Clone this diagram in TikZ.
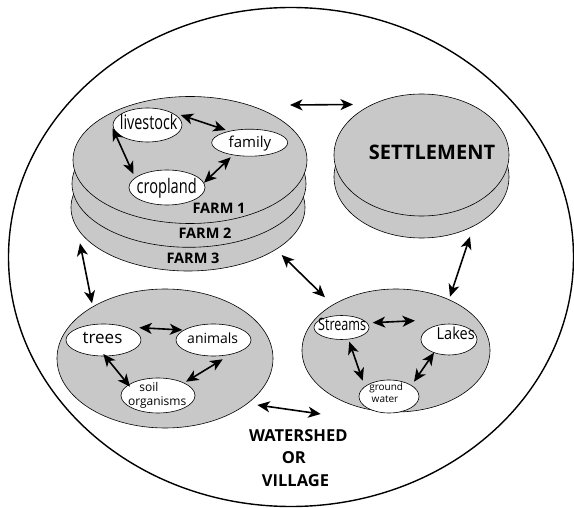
\documentclass[tikz,border=0pt]{standalone}
\usepackage{fontspec}
\setmainfont{Open Sans}
\usetikzlibrary{shapes.geometric,arrows.meta,calc}

\definecolor{diskgray}{RGB}{200,200,200}

% horizontally condensed text
\newcommand\slimtext[2]{\scalebox{#1}[1]{#2}}

\tikzset{
  disk/.style={ellipse, draw=black, line width=0.6pt, fill=diskgray, inner sep=0pt},
  bubble/.style={ellipse, draw=black, line width=0.6pt, fill=white, inner sep=0pt},
  link/.style={{Stealth[length=12.5pt,width=11pt,inset=3.5pt]}-{Stealth[length=12.5pt,width=11pt,inset=3.5pt]}, line width=1.6pt},
  lbl/.style={anchor=base, inner sep=0pt},
  caps/.style={lbl, font=\bfseries\fontsize{14.5}{16}\selectfont},
}

\begin{document}
\begin{tikzpicture}[x=1pt, y=-1pt]
\useasboundingbox (0,0) rectangle (574,508);

% outer boundary
\node[ellipse, draw=black, line width=1.4pt, inner sep=0pt,
      minimum width=565pt, minimum height=499pt] (outer) at (291,257) {};

% farm stack (bottom disk first)
\node[disk, minimum width=234pt, minimum height=127pt] (farm3) at (188,207.5) {};
\node[disk, minimum width=234pt, minimum height=127pt] (farm2) at (189,183.8) {};
\node[disk, minimum width=234pt, minimum height=127pt] (farm1) at (190,160) {};

% settlement
\node[disk, minimum width=175pt, minimum height=122pt] (settle2) at (421.5,177) {};
\node[disk, minimum width=175pt, minimum height=122pt] (settle1) at (421.5,155) {};

% forest and water
\node[disk, minimum width=216pt, minimum height=139pt] (forest) at (165,358.5) {};
\node[disk, minimum width=188pt, minimum height=123pt] (water) at (396,350.5) {};

% farm components
\node[bubble, minimum width=69pt, minimum height=34pt] (liv) at (147.5,125) {};
\node[bubble, minimum width=76pt, minimum height=27pt] (fam) at (249.7,142.7) {};
\node[bubble, minimum width=76pt, minimum height=35pt] (crop) at (167,187.5) {};

% forest components
\node[bubble, minimum width=75pt, minimum height=32pt] (trees) at (103.5,340) {};
\node[bubble, minimum width=75pt, minimum height=32pt] (animals) at (213.5,340) {};
\node[bubble, minimum width=74pt, minimum height=35pt] (soil) at (158,395.5) {};

% water components
\node[bubble, minimum width=55pt, minimum height=24pt] (streams) at (341.5,327.5) {};
\node[bubble, minimum width=56pt, minimum height=31pt] (lakes) at (449,339.5) {};
\node[bubble, minimum width=60pt, minimum height=33pt] (ground) at (389,396.5) {};

% labels
\node[lbl, font=\fontsize{20}{22}\selectfont] (t-liv) at (148.7,130) {\slimtext{0.72}{livestock}};
\node[lbl, font=\fontsize{15}{17}\selectfont] (t-fam) at (250,147.3) {family};
\node[lbl, font=\fontsize{20}{22}\selectfont] (t-crop) at (166.7,193.3) {\slimtext{0.73}{cropland}};
\node[caps] (t-farm1) at (219,214) {FARM 1};
\node[caps] (t-farm2) at (205,239) {FARM 2};
\node[caps] (t-farm3) at (193,264) {FARM 3};
\node[lbl, font=\bfseries\fontsize{20}{22}\selectfont] (t-settle) at (432,159.3) {SETTLEMENT};

\node[lbl, font=\fontsize{17}{19}\selectfont] (t-trees) at (102.5,344) {trees};
\node[lbl, font=\fontsize{14}{16}\selectfont] (t-animals) at (212.7,344) {animals};
\node[lbl, font=\fontsize{12}{14}\selectfont] (t-soil1) at (149,391.7) {soil};
\node[lbl, font=\fontsize{12}{14}\selectfont] (t-soil2) at (157.2,406) {organisms};

\node[lbl, font=\fontsize{17}{19}\selectfont] (t-streams) at (342.2,330.7) {\slimtext{0.74}{Streams}};
\node[lbl, font=\fontsize{16.5}{18}\selectfont] (t-lakes) at (455.7,340) {\slimtext{0.88}{Lakes}};
\node[lbl, font=\fontsize{10}{12}\selectfont] (t-ground1) at (386.2,391) {ground};
\node[lbl, font=\fontsize{10}{12}\selectfont] (t-ground2) at (385,402.3) {water};

\node[lbl, font=\bfseries\fontsize{16.5}{18}\selectfont] (t-ws1) at (298.3,441.7) {WATERSHED};
\node[lbl, font=\bfseries\fontsize{16.5}{18}\selectfont] (t-ws2) at (293.8,464) {OR};
\node[lbl, font=\bfseries\fontsize{16.5}{18}\selectfont] (t-ws3) at (295.5,486.7) {VILLAGE};

% links inside the farm
\draw[link] ($(liv)+(33.2,-10)$) -- ($(fam)+(-24,-12.7)$);
\draw[link] ($(liv)+(-34.8,3.3)$) -- ($(crop)+(-33.7,-13.5)$);
\draw[link] ($(crop)+(37,-4.8)$) -- ($(fam)+(-19,14.6)$);

% links between the parts of the watershed
\draw[link] ($(farm1)+(100,-55)$) -- ($(settle1)+(-68.5,-50.5)$);
\draw[link] ($(farm3)+(-108,35.8)$) -- ($(forest)+(-73,-55.2)$);
\draw[link] ($(farm3)+(93.7,47.5)$) -- ($(water)+(-71,-53.2)$);
\draw[link] ($(settle2)+(48.5,59.7)$) -- ($(water)+(54,-53.8)$);
\draw[link] ($(forest)+(92.3,46.5)$) -- ($(water)+(-75.3,63.5)$);

% links inside the forest
\draw[link] ($(trees)+(35.8,-12.3)$) -- ($(animals)+(-31.2,-10)$);
\draw[link] ($(trees)+(-0.2,14)$) -- ($(soil)+(-28,-8.8)$);
\draw[link] ($(animals)+(9.2,19.3)$) -- ($(soil)+(28,-13.8)$);

% links inside the water system
\draw[link] ($(streams)+(31.2,-4.8)$) -- ($(lakes)+(-34,-18.8)$);
\draw[link] ($(streams)+(7.8,14.2)$) -- ($(ground)+(-26.3,-15.8)$);
\draw[link] ($(lakes)+(-15,13.2)$) -- ($(ground)+(25,-14.8)$);
\end{tikzpicture}
\end{document}
